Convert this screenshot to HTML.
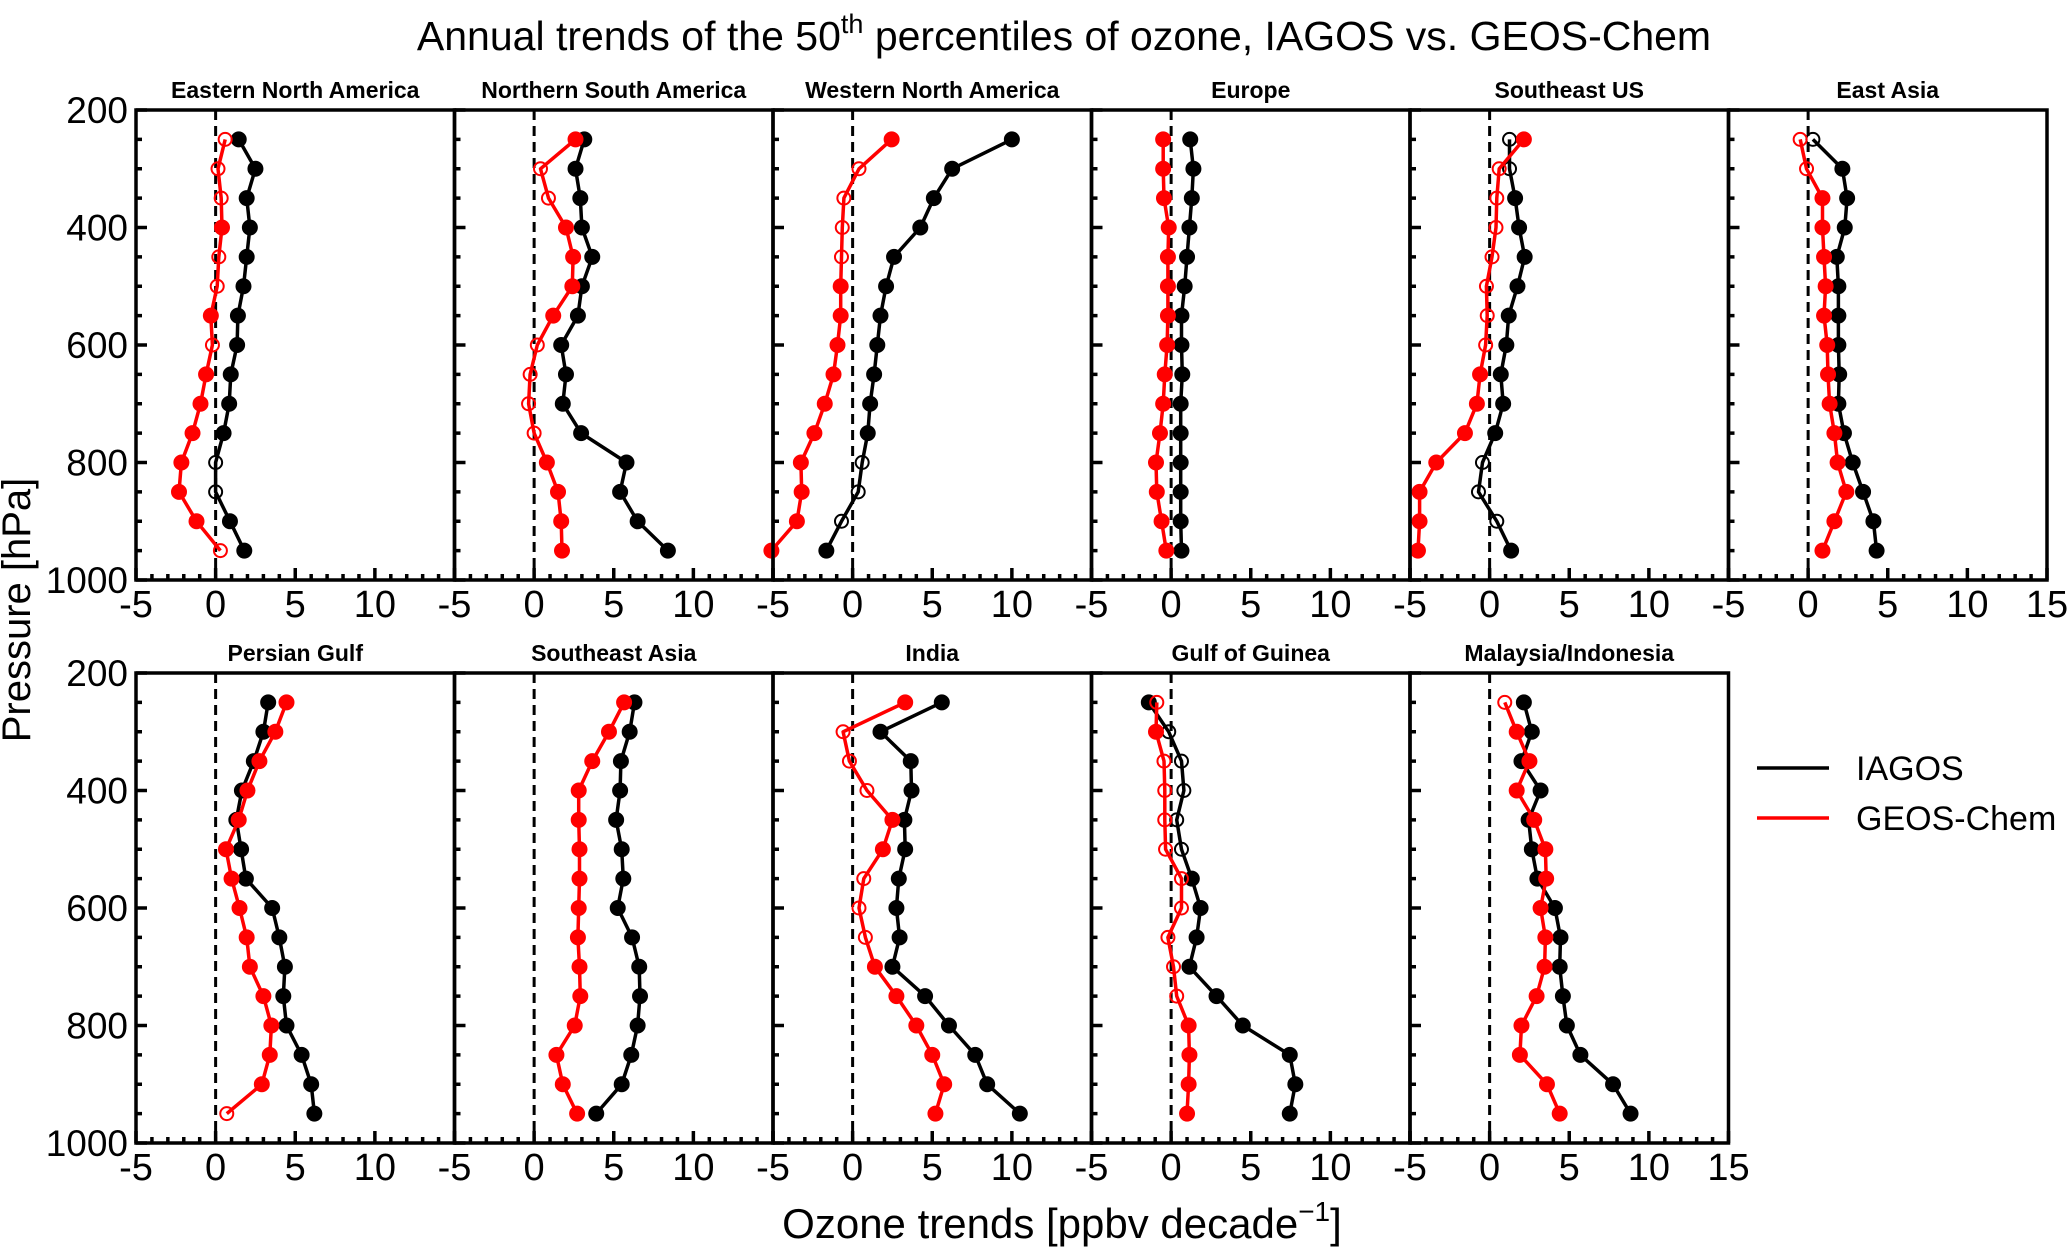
<!DOCTYPE html>
<html><head><meta charset="utf-8">
<style>
html,body{margin:0;padding:0;background:#fff;}
svg{display:block;font-family:"Liberation Sans",Arial,sans-serif;}
</style></head>
<body>
<svg id="chart" xmlns="http://www.w3.org/2000/svg" width="2067" height="1249" viewBox="0 0 2067 1249">
<rect x="0" y="0" width="2067" height="1249" fill="#fff"/>
<text x="1064" y="50" font-size="41" text-anchor="middle">Annual trends of the 50<tspan dy="-17" font-size="27">th</tspan><tspan dy="17"> percentiles of ozone, IAGOS vs. GEOS-Chem</tspan></text>
<text x="0" y="0" font-size="40" text-anchor="middle" transform="translate(30,610) rotate(-90)">Pressure [hPa]</text>
<text x="1062" y="1238" font-size="42" text-anchor="middle">Ozone trends [ppbv decade<tspan dy="-17" font-size="28">−1</tspan><tspan dy="17">]</tspan></text>
<g>
<line x1="1757" y1="768" x2="1829" y2="768" stroke="#000" stroke-width="3.5"/>
<text x="1856" y="780" font-size="34">IAGOS</text>
<line x1="1757" y1="818" x2="1829" y2="818" stroke="#f00" stroke-width="3.5"/>
<text x="1856" y="830" font-size="34">GEOS-Chem</text>
</g>
<g id="panels"></g>
</svg>
<script>
const levels = [250,300,350,400,450,500,550,600,650,700,750,800,850,900,950];
const regions = ["Eastern North America","Northern South America","Western North America","Europe","Southeast US","East Asia","Persian Gulf","Southeast Asia","India","Gulf of Guinea","Malaysia/Indonesia"];
const iagos = [
 [1.45,2.5,1.95,2.15,1.95,1.75,1.4,1.35,0.95,0.85,0.5,0,0,0.9,1.8],
 [3.15,2.6,2.9,3.0,3.65,3.0,2.75,1.7,2.0,1.8,2.95,5.8,5.4,6.5,8.4],
 [10.0,6.25,5.1,4.25,2.6,2.1,1.75,1.55,1.35,1.1,0.95,0.6,0.35,-0.7,-1.65],
 [1.2,1.4,1.3,1.15,1.0,0.85,0.65,0.65,0.7,0.6,0.6,0.6,0.6,0.6,0.65],
 [1.25,1.25,1.6,1.85,2.2,1.75,1.2,1.05,0.7,0.85,0.35,-0.45,-0.7,0.45,1.35],
 [0.3,2.15,2.45,2.3,1.8,1.9,1.9,1.9,1.95,1.9,2.25,2.8,3.45,4.1,4.3],
 [3.3,3.0,2.4,1.65,1.3,1.6,1.9,3.55,4.0,4.35,4.25,4.45,5.4,6.0,6.2],
 [6.3,6.0,5.45,5.4,5.15,5.5,5.6,5.25,6.15,6.6,6.65,6.5,6.1,5.5,3.9],
 [5.6,1.75,3.65,3.7,3.25,3.3,2.9,2.75,2.95,2.5,4.55,6.05,7.7,8.45,10.5],
 [-1.4,-0.15,0.65,0.8,0.35,0.65,1.3,1.85,1.6,1.15,2.85,4.5,7.45,7.8,7.45],
 [2.15,2.65,2.0,3.2,2.45,2.65,3.0,4.1,4.45,4.4,4.6,4.85,5.7,7.75,8.85]
];
const iagosSig = [
 "111111111110011","111111111111111","111111111110001","111111111111111",
 "001111111110001","011111111111111","111111111111111","111111111111111",
 "111111111111111","100000111111111","111111111111111"
];
const geos = [
 [0.6,0.15,0.35,0.4,0.2,0.1,-0.3,-0.2,-0.6,-0.95,-1.45,-2.15,-2.3,-1.2,0.3],
 [2.6,0.4,0.9,2.0,2.45,2.4,1.2,0.2,-0.25,-0.35,0,0.8,1.5,1.7,1.75],
 [2.45,0.4,-0.55,-0.65,-0.7,-0.75,-0.75,-0.95,-1.2,-1.75,-2.4,-3.25,-3.2,-3.5,-5.1],
 [-0.5,-0.5,-0.45,-0.15,-0.2,-0.2,-0.2,-0.25,-0.4,-0.5,-0.7,-0.95,-0.9,-0.6,-0.3],
 [2.15,0.6,0.45,0.4,0.15,-0.2,-0.15,-0.25,-0.6,-0.8,-1.55,-3.35,-4.4,-4.4,-4.5],
 [-0.5,-0.1,0.9,0.9,1.0,1.1,1.0,1.2,1.25,1.35,1.65,1.85,2.4,1.65,0.9],
 [4.45,3.75,2.75,2.0,1.45,0.65,1.0,1.5,1.95,2.15,3.0,3.5,3.4,2.9,0.7],
 [5.65,4.7,3.65,2.8,2.8,2.85,2.85,2.8,2.75,2.85,2.9,2.55,1.4,1.8,2.7],
 [3.3,-0.6,-0.2,0.9,2.5,1.9,0.7,0.4,0.8,1.4,2.75,4.0,5.0,5.75,5.2],
 [-0.9,-0.95,-0.45,-0.4,-0.4,-0.35,0.65,0.65,-0.2,0.15,0.35,1.1,1.15,1.1,1.0],
 [0.95,1.7,2.5,1.7,2.8,3.5,3.55,3.2,3.5,3.45,2.95,2.0,1.9,3.6,4.4]
];
const geosSig = [
 "000100101111110","100111100001111","100001111111111","111111111111111",
 "100000001111111","001111111111111","111111111111110","111111111111111",
 "100011000111111","010000000001111","011111111111111"
];
const xTicks = [-5,0,5,10,15];
const yTicks = [200,400,600,800,1000];

const NS="http://www.w3.org/2000/svg";
const LEFT=136, PW=318.5, ROWTOP=[110,673], PH=470;
function mk(tag, attrs, parent){const e=document.createElementNS(NS,tag);for(const k in attrs)e.setAttribute(k,attrs[k]);parent.appendChild(e);return e;}
const root=document.getElementById('panels');

regions.forEach((name,i)=>{
  const row=i<6?0:1, col=i<6?i:i-6;
  const x0=LEFT+col*PW, y0=ROWTOP[row];
  const sx=v=>x0+(v+5)/20*PW;
  const sy=p=>y0+(p-200)/800*PH;
  const g=mk('g',{},root);
  
  
  const t=mk('text',{x:x0+PW/2,y:y0-12,'font-size':23,'font-weight':'bold','text-anchor':'middle'},g);
  
  
  t.textContent=name;
  const z=mk('line',{x1:sx(0),x2:sx(0),y1:y0,y2:y0+PH,stroke:'#000','stroke-width':3,'stroke-dasharray':'10,6'},g);
  
  
  for(let p=200;p<=1000;p+=50){
    const major=(p%200===0);
    const tk=mk('line',{x1:x0,x2:x0+(major?11:6),y1:sy(p),y2:sy(p),stroke:'#000','stroke-width':3.5},g);
    
    
  }
  for(let v=-5;v<=15;v++){
    const major=(v%5===0);
    const tk=mk('line',{x1:sx(v),x2:sx(v),y1:y0+PH,y2:y0+PH-(major?12:6),stroke:'#000','stroke-width':3.5},g);
    
    
  }
  xTicks.forEach(v=>{
    if(v===15 && !(i===5||i===10)) return;
    const l=mk('text',{x:sx(v),y:y0+PH+37,'font-size':38,'text-anchor':'middle'},g);
    
    
    l.textContent=String(v);
  });
  if(col===0){
    yTicks.forEach(p=>{
      const l=mk('text',{x:x0-8,y:sy(p)+13,'font-size':37,'text-anchor':'end'},g);
      
      
      l.textContent=String(p);
    });
  }
  const series=[[iagos[i],iagosSig[i],'#000','iagos'],[geos[i],geosSig[i],'#f00','geoschem']];
  series.forEach(([vals,sig,color,key])=>{
    const pts=vals.map((v,k)=>sx(v).toFixed(1)+','+sy(levels[k]).toFixed(1)).join(' ');
    const pl=mk('polyline',{points:pts,fill:'none',stroke:color,'stroke-width':3.5,'stroke-linejoin':'round'},g);
    
    
    vals.forEach((v,k)=>{
      const filled=sig[k]==='1';
      const c=mk('circle',{cx:sx(v),cy:sy(levels[k]),r:filled?7.5:6.5,fill:filled?color:'none',stroke:color,'stroke-width':filled?1:2},g);
      
      
    });
  });
  const fr=mk('rect',{x:x0,y:y0,width:PW,height:PH,fill:'none',stroke:'#000','stroke-width':3.5},g);
  
  
});
</script>
</body></html>
